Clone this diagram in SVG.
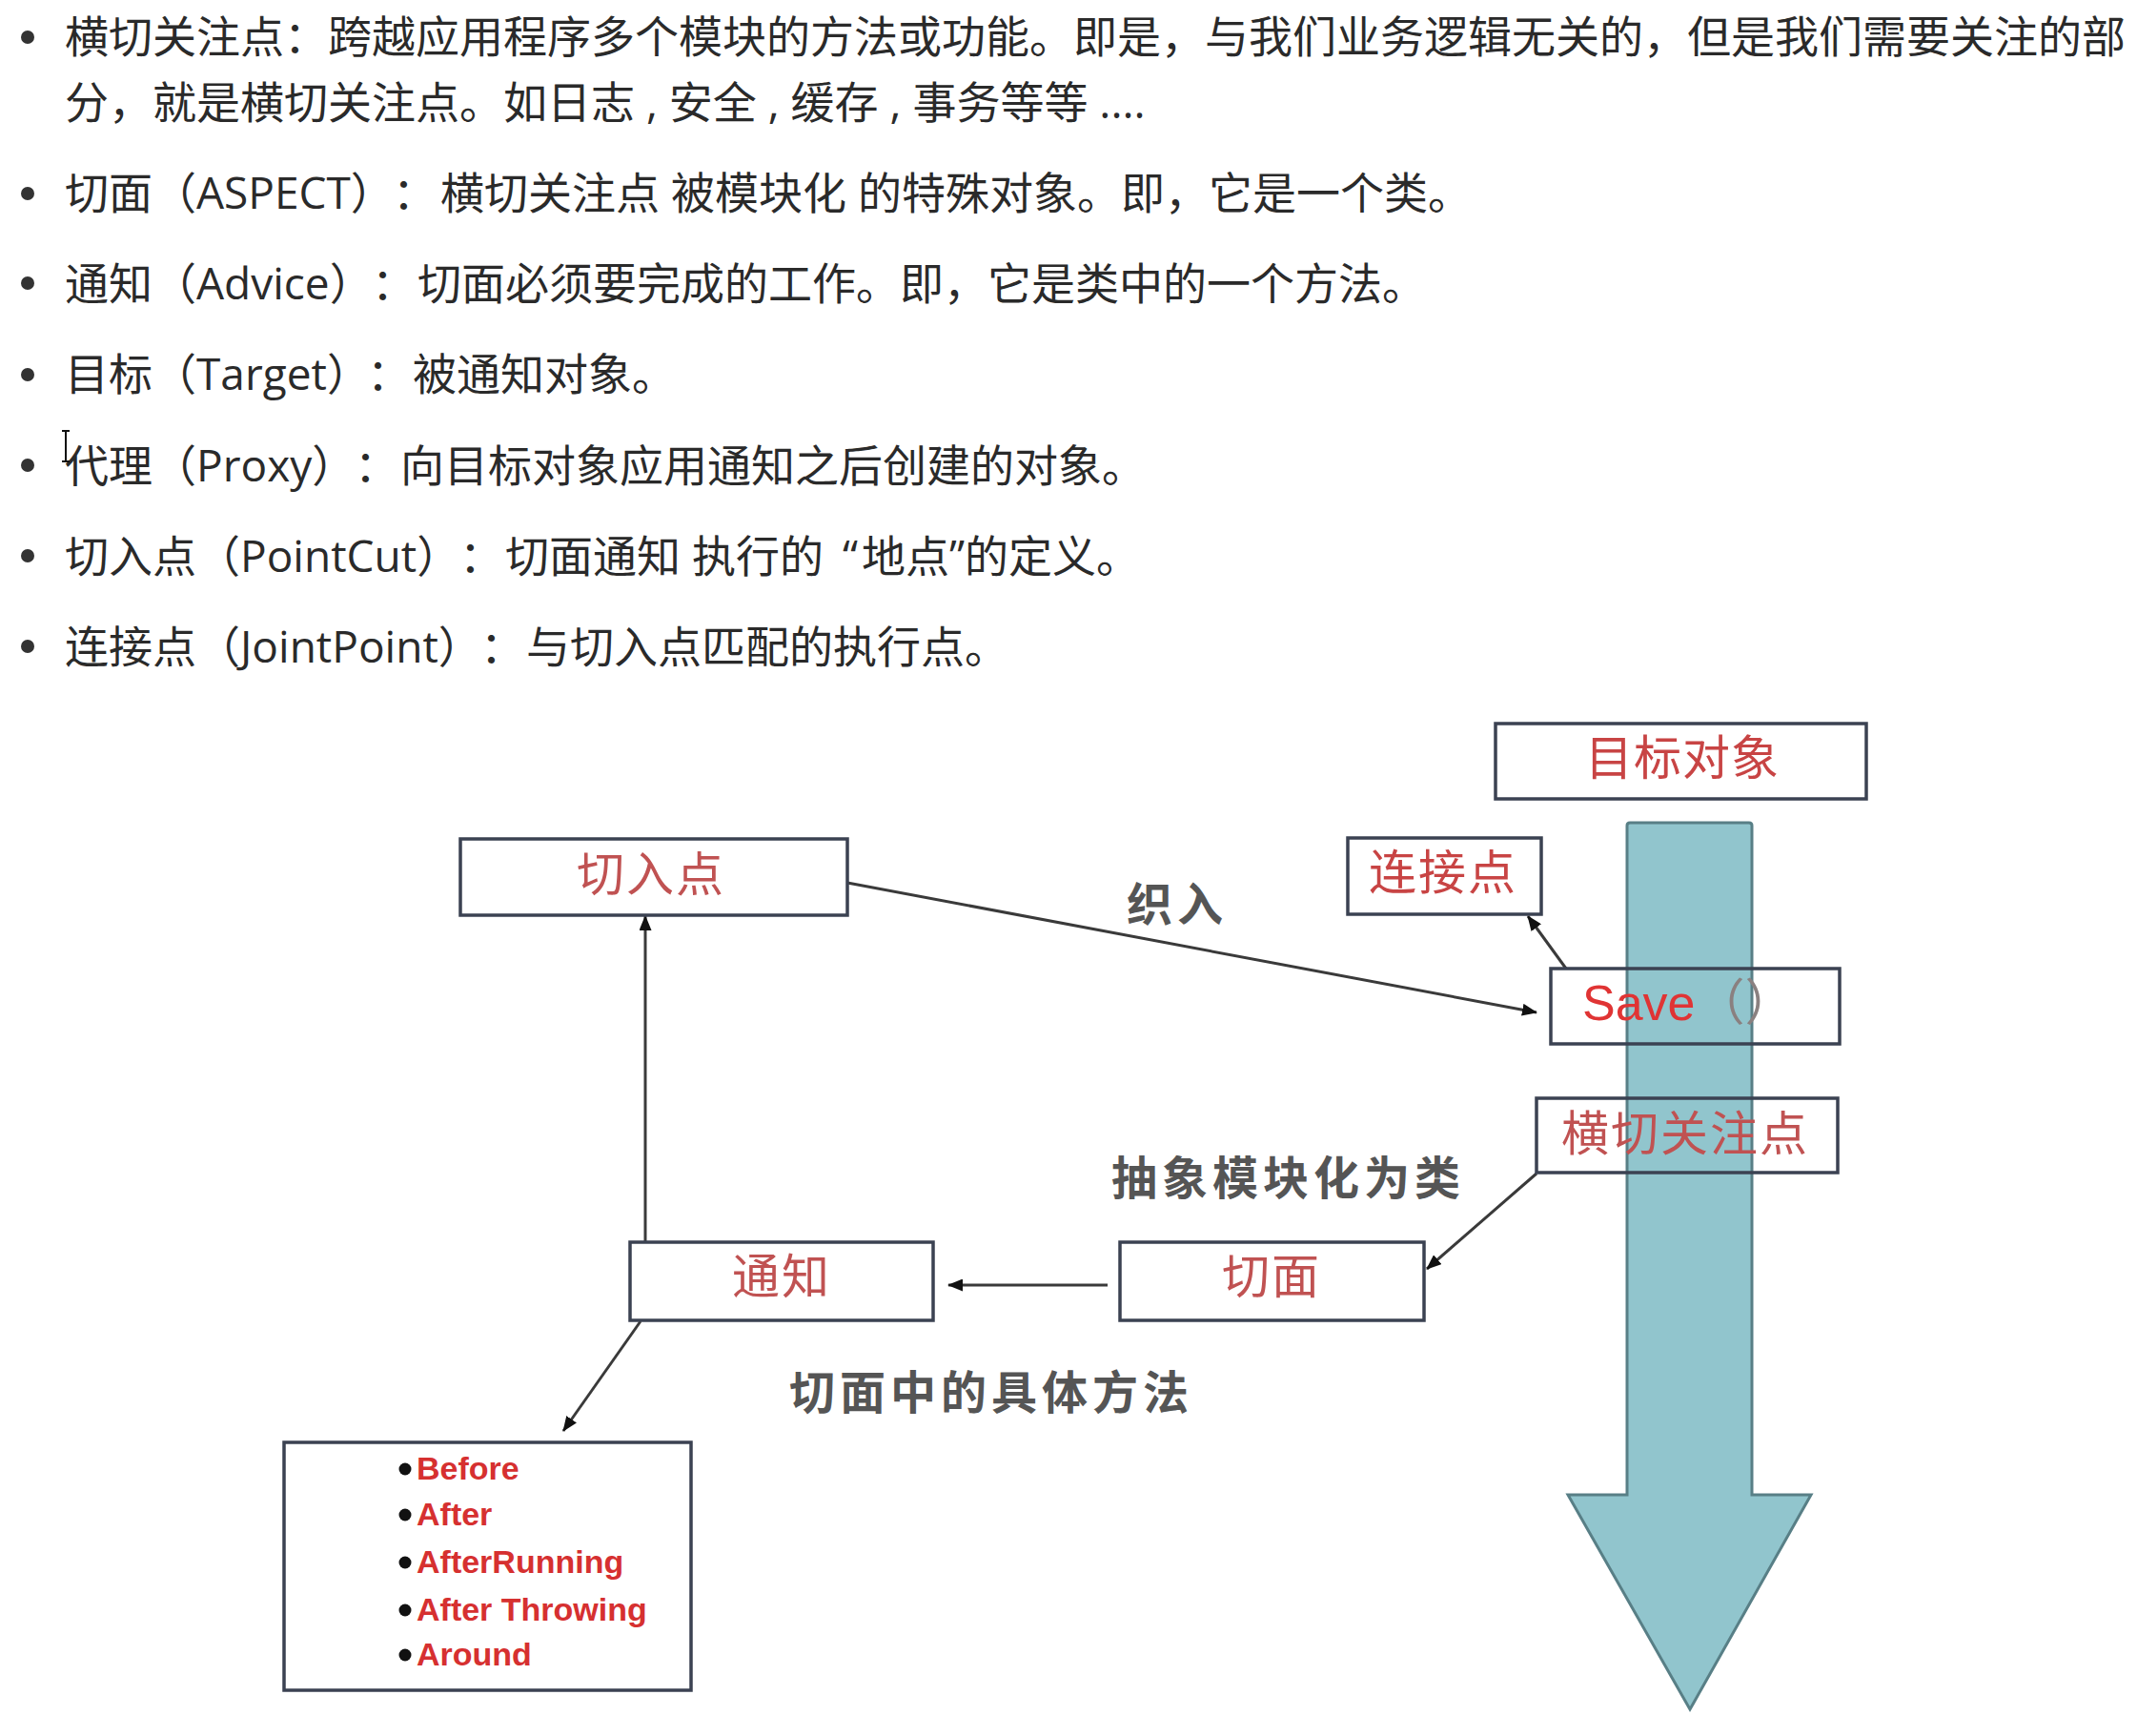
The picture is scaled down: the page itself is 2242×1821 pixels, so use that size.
<svg xmlns="http://www.w3.org/2000/svg" width="2242" height="1821" viewBox="0 0 2242 1821">
<defs>
<marker id="ah" viewBox="0 0 16 13" refX="15" refY="6.5" markerWidth="16" markerHeight="13" orient="auto" markerUnits="userSpaceOnUse">
<path d="M0,0 L16,6.5 L0,13 z" fill="#111"/>
</marker>
<style>
text{text-spacing-trim:space-all}
.body{font-family:"Open Sans","Noto Sans CJK SC",sans-serif;font-size:46px;fill:#2a2a2a}
.bullet{fill:#333}
.box{fill:none;stroke:#3b4252;stroke-width:3.5}
.lbl{font-family:"Noto Sans CJK SC",sans-serif;font-size:50px;fill:#c84444;letter-spacing:2px}
.gray{font-family:"Noto Sans CJK SC",sans-serif;font-size:48px;font-weight:bold;fill:#555555;letter-spacing:5px}
.conn{stroke:#3a3a3a;stroke-width:3;fill:none;marker-end:url(#ah)}
.adv{font-family:"Liberation Sans",Arial,sans-serif;font-size:34px;font-weight:bold;fill:#d63030}
.dot{fill:#111}
</style>
</defs>
<rect width="2242" height="1821" fill="#ffffff"/>

<g id="definitions">
<circle class="bullet" cx="29" cy="39" r="7"/>
<text class="body" x="68" y="55">横切关注点：跨越应用程序多个模块的方法或功能。即是，与我们业务逻辑无关的，但是我们需要关注的部</text>
<text class="body" x="68" y="124">分，就是横切关注点。如日志 , 安全 , 缓存 , 事务等等 ....</text>
<circle class="bullet" cx="29" cy="203" r="7"/>
<text class="body" x="68" y="219">切面（ASPECT）<tspan x="412">：</tspan><tspan x="462">横切关注点 被模块化 的特殊对象。即，它是一个类。</tspan></text>
<circle class="bullet" cx="29" cy="297" r="7"/>
<text class="body" x="68" y="314">通知（Advice）<tspan x="390">：</tspan><tspan x="438">切面必须要完成的工作。即，它是类中的一个方法。</tspan></text>
<circle class="bullet" cx="29" cy="393" r="7"/>
<text class="body" x="68" y="409">目标（Target）<tspan x="385">：</tspan><tspan x="433">被通知对象。</tspan></text>
<circle class="bullet" cx="29" cy="488" r="7"/>
<text class="body" x="68" y="505">代理（Proxy）<tspan x="372">：</tspan><tspan x="420">向目标对象应用通知之后创建的对象。</tspan></text>
<circle class="bullet" cx="29" cy="583" r="7"/>
<text class="body" x="68" y="600">切入点（PointCut）<tspan x="482">：</tspan><tspan x="530">切面通知 执行的 </tspan><tspan x="884">“</tspan><tspan x="904">地点”的定义。</tspan></text>
<circle class="bullet" cx="29" cy="678" r="7"/>
<text class="body" x="68" y="695">连接点（JointPoint）<tspan x="504">：</tspan><tspan x="552">与切入点匹配的执行点。</tspan></text>
<g id="cursor" stroke="#111" stroke-width="2" fill="none">
<path d="M69,453 V483 M65,452 H73 M65,484 H73"/>
</g>
</g>

<g id="flow-arrow">
<path d="M1707,866 Q1707,863 1710,863 H1835 Q1838,863 1838,866 V1568 H1900 L1773,1793 L1645,1568 H1707 Z" fill="#91c5cd" stroke="#587f86" stroke-width="3"/>
</g>

<g id="connectors">
<line class="conn" x1="889" y1="926" x2="1612" y2="1062"/>
<line class="conn" x1="1643" y1="1016" x2="1603" y2="961"/>
<line class="conn" x1="1612" y1="1231" x2="1497" y2="1331"/>
<line class="conn" x1="1162" y1="1348" x2="995" y2="1348"/>
<line class="conn" x1="677" y1="1303" x2="677" y2="961"/>
<line class="conn" x1="672" y1="1386" x2="591" y2="1501"/>
</g>

<g id="node-target">
<rect class="box" x="1569" y="759" width="389" height="79"/>
<text class="lbl" x="1663" y="813" style="letter-spacing:1px">目标对象</text>
</g>

<g id="node-pointcut">
<rect class="box" x="483" y="880" width="406" height="80"/>
<text class="lbl" x="605" y="935" style="fill:#c05252">切入点</text>
</g>

<g id="node-joinpoint">
<rect class="box" x="1414" y="879" width="203" height="80"/>
<text class="lbl" x="1436" y="933">连接点</text>
</g>

<g id="node-save">
<rect class="box" x="1627" y="1016" width="303" height="79"/>
<text x="1660" y="1070" style="font-family:'Liberation Sans',Arial,'Noto Sans CJK SC',sans-serif;font-size:52px;fill:#e03434">Save<tspan style="fill:#8a8080">（）</tspan></text>
</g>

<g id="node-crosscut">
<rect class="box" x="1612" y="1152" width="316" height="78"/>
<text class="lbl" x="1638" y="1207" style="fill:#c05252">横切关注点</text>
</g>

<g id="node-aspect">
<rect class="box" x="1175" y="1303" width="319" height="82"/>
<text class="lbl" x="1282" y="1357" style="fill:#c05252">切面</text>
</g>

<g id="node-advice">
<rect class="box" x="661" y="1303" width="318" height="82"/>
<text class="lbl" x="768" y="1357" style="fill:#c05252">通知</text>
</g>

<g id="node-advice-types">
<rect class="box" x="298" y="1513" width="427" height="260"/>
<circle class="dot" cx="425" cy="1541" r="6.5"/>
<text class="adv" x="437" y="1552">Before</text>
<circle class="dot" cx="425" cy="1589" r="6.5"/>
<text class="adv" x="437" y="1600">After</text>
<circle class="dot" cx="425" cy="1639" r="6.5"/>
<text class="adv" x="437" y="1650">AfterRunning</text>
<circle class="dot" cx="425" cy="1689" r="6.5"/>
<text class="adv" x="437" y="1700">After Throwing</text>
<circle class="dot" cx="425" cy="1736" r="6.5"/>
<text class="adv" x="437" y="1747">Around</text>
</g>

<g id="labels">
<text class="gray" x="1182" y="966">织入</text>
<text class="gray" x="1166" y="1253">抽象模块化为类</text>
<text class="gray" x="828" y="1478">切面中的具体方法</text>
</g>
</svg>
